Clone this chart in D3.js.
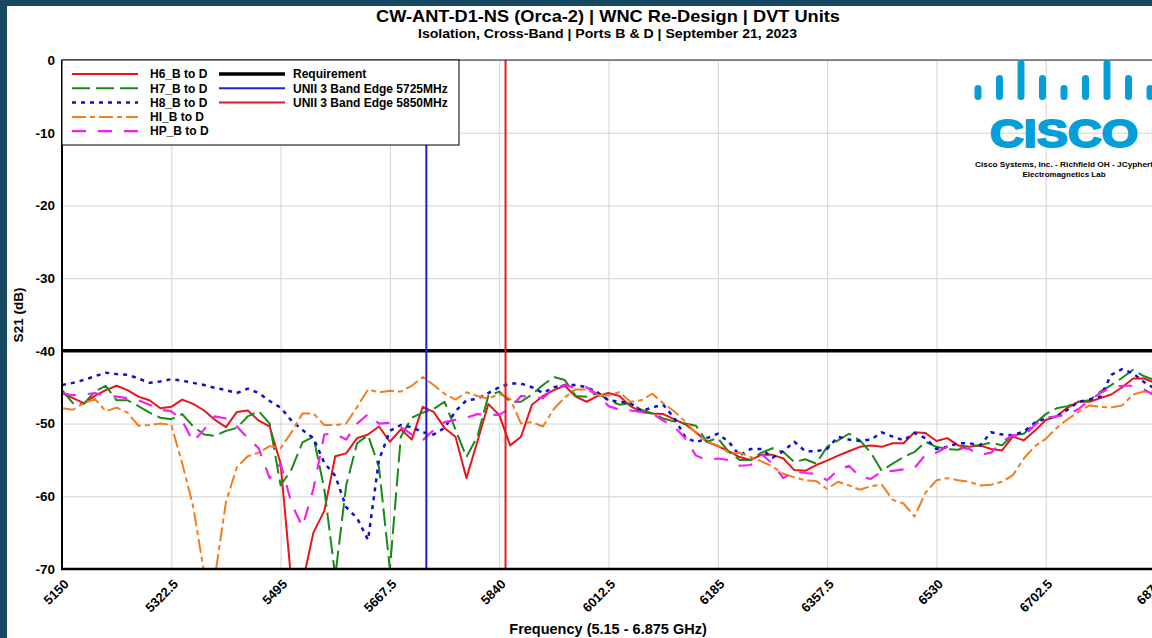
<!DOCTYPE html>
<html>
<head>
<meta charset="utf-8">
<script src="https://cdn.jsdelivr.net/npm/d3@7"></script>
<style>
  html, body { margin: 0; padding: 0; background: #174a62; }
  svg { display: block; font-family: "Liberation Sans", Arial, sans-serif; font-weight: bold; }
</style>
</head>
<body>
<div id="chart"></div>
<script>
// frequency points (MHz)
const freqs = [
  5150, 5167.25, 5184.5, 5201.75, 5219, 5236.25, 5253.5, 5270.75, 5288, 5305.25,
  5322.5, 5339.75, 5357, 5374.25, 5391.5, 5408.75, 5426, 5443.25, 5460.5, 5477.75,
  5495, 5512.25, 5529.5, 5546.75, 5564, 5581.25, 5598.5, 5615.75, 5633, 5650.25,
  5667.5, 5684.75, 5702, 5719.25, 5736.5, 5753.75, 5771, 5788.25, 5805.5, 5822.75,
  5840, 5857.25, 5874.5, 5891.75, 5909, 5926.25, 5943.5, 5960.75, 5978, 5995.25,
  6012.5, 6029.75, 6047, 6064.25, 6081.5, 6098.75, 6116, 6133.25, 6150.5, 6167.75,
  6185, 6202.25, 6219.5, 6236.75, 6254, 6271.25, 6288.5, 6305.75, 6323, 6340.25,
  6357.5, 6374.75, 6392, 6409.25, 6426.5, 6443.75, 6461, 6478.25, 6495.5, 6512.75,
  6530, 6547.25, 6564.5, 6581.75, 6599, 6616.25, 6633.5, 6650.75, 6668, 6685.25,
  6702.5, 6719.75, 6737, 6754.25, 6771.5, 6788.75, 6806, 6823.25, 6840.5, 6857.75,
  6875
];

// S21 (dB) per unit
const h6 = [
  -45.8, -46.5, -47.2, -46.2, -45.4, -44.8, -45.4, -46.3, -46.8, -47.9,
  -47.7, -46.7, -47.3, -48.2, -49.5, -50.5, -48.4, -48.2, -49.6, -50.4,
  -55.5, -72, -72, -65, -62, -54.5, -54.1, -52.0, -51.5, -50.4,
  -52.5, -50.8, -52.2, -47.7, -48.4, -50.6, -51.8, -57.5, -52.5, -47.3,
  -48.8, -53.0, -51.8, -47.4, -46.2, -45.4, -44.8, -46.3, -47.0, -46.2,
  -45.8, -46.2, -47.6, -48.4, -48.6, -48.7, -49.4, -50.1, -51.2, -52.5,
  -53.1, -53.8, -54.6, -55.0, -54.3, -54.3, -54.8, -56.4, -56.5, -55.7,
  -55.1, -54.4, -53.8, -53.2, -53.0, -53.2, -52.7, -52.7, -51.2, -51.3,
  -52.4, -52.0, -53.0, -53.2, -53.0, -53.5, -53.7, -51.8, -52.3, -51.0,
  -49.5, -49.0, -47.8, -47.0, -47.0, -46.5, -46.0, -45.0, -43.8, -43.8,
  -44.4
];
const h7 = [
  -45.4, -47.2, -47.3, -45.6, -44.8, -46.8, -46.8, -47.6, -48.5, -49.2,
  -49.4, -48.7, -50.4, -51.5, -51.7, -51.0, -50.6, -49.0, -48.3, -50.0,
  -58.5, -56.3, -52.6, -51.8, -59, -71, -58.5, -52.7, -51.6, -56,
  -70, -51.8, -49.2, -48.5, -48.0, -47.0, -50.8, -54.6, -51.8, -46.2,
  -45.6, -47.0, -47.0, -46.0, -44.7, -43.6, -44.0, -46.2, -46.3, -45.8,
  -46.8, -47.4, -47.2, -48.1, -48.6, -49.3, -49.7, -50.0, -50.3, -52.5,
  -52.0, -53.9, -55.0, -55.0, -54.0, -53.4, -53.9, -55.3, -54.9, -55.5,
  -53.2, -52.3, -51.4, -52.3, -54.0, -56.5, -55.5, -54.6, -53.9, -52.5,
  -53.2, -53.5, -53.6, -53.0, -53.0, -52.6, -53.0, -51.6, -51.4, -50.0,
  -48.7, -47.9, -47.6, -47.0, -46.8, -45.6, -44.7, -43.7, -42.6, -43.5,
  -44.0
];
const h8 = [
  -44.7, -44.4, -44.0, -43.5, -43.0, -43.2, -43.3, -43.8, -44.4, -44.2,
  -43.9, -44.1, -44.4, -44.7, -45.1, -45.4, -45.8, -45.2, -45.8, -46.9,
  -47.8, -49.6, -50.9, -52.0, -55.4, -57.2, -61.5, -63.0, -66, -55,
  -51.0, -50.2, -50.5, -51.2, -51.5, -50.6, -48.3, -46.8, -46.6, -45.8,
  -45.0, -44.5, -44.5, -45.0, -45.8, -45.0, -44.7, -44.7, -45.0, -45.7,
  -46.8, -47.0, -47.2, -48.3, -47.8, -47.4, -49.2, -51.8, -52.6, -52.0,
  -51.4, -52.5, -54.4, -53.5, -53.5, -54.7, -53.8, -52.5, -53.8, -53.8,
  -53.5, -51.8, -52.2, -52.4, -52.2, -51.2, -51.8, -52.3, -51.3, -52.0,
  -53.5, -53.2, -52.7, -52.7, -53.0, -51.2, -51.5, -51.6, -51.1, -49.9,
  -49.3, -49.0, -48.1, -47.0, -46.7, -46.3, -43.3, -42.5, -43.1, -44.3,
  -45.2
];
const hi = [
  -47.9, -48.1, -47.2, -46.6, -48.3, -47.8, -48.5, -50.3, -50.2, -50.0,
  -50.2, -55.5, -61.4, -70.5, -71, -60.8, -56, -54.5, -54.0, -53.1,
  -53.4, -51.2, -48.6, -48.6, -50.2, -50.2, -50.0, -47.7, -45.3, -45.7,
  -45.5, -45.6, -44.8, -43.6, -44.7, -45.9, -46.7, -45.7, -46.2, -46.6,
  -45.9, -46.6, -50.0, -49.8, -50.4, -48.0, -46.4, -45.3, -45.3, -46.1,
  -46.1, -45.7, -47.0, -46.8, -45.9, -47.2, -48.3, -49.7, -51.3, -52.5,
  -53.0, -54.0, -54.0, -54.6, -55.2, -55.9, -56.9, -57.4, -57.8, -57.9,
  -59.0, -58.0, -58.5, -59.1, -58.6, -58.4, -60.5, -61.0, -62.8, -59.5,
  -57.8, -57.5, -57.8, -58.0, -58.5, -58.4, -58.0, -57.1, -54.8, -53.1,
  -52.1, -50.6, -49.4, -48.4, -47.5, -47.7, -47.8, -47.5, -46.0, -45.6,
  -45.8
];
const hp = [
  -45.8, -46.1, -46.0, -45.8, -46.2, -46.3, -46.5, -46.8, -47.4, -48.1,
  -48.3, -49.6, -52.5, -50.8, -49.0, -49.3, -50.4, -52.0, -53.4, -57.5,
  -55.5, -61, -64.2, -59, -51.5, -51.4, -52.2, -50, -48.7, -50.0,
  -49.9, -50.5, -51.5, -52.3, -50.9, -49.8, -49.5, -49.2, -48.7, -48.8,
  -48.8, -47.9, -46.2, -46.4, -46.5, -45.2, -44.7, -45.1, -45.0, -46.0,
  -47.6, -48.1, -48.2, -48.4, -48.6, -49.6, -50.4, -52.0, -54.4, -55.0,
  -54.8, -55.0, -55.8, -55.7, -54.2, -55.5, -57.5, -56.6, -56.8, -56.9,
  -57.8, -56.4, -55.8, -57.3, -57.6, -56.6, -56.5, -56.3, -56.1, -54.3,
  -54.0, -53.2, -53.3, -53.5, -54.3, -54.0, -52.5, -51.6, -51.7, -50.2,
  -49.2, -49.0, -48.8, -48.0, -46.8, -45.8, -45.0, -44.8, -44.8, -45.3,
  -46.2
];

const seriesNames = ["H6_B to D", "H7_B to D", "H8_B to D", "HI_B to D", "HP_B to D"];
const refNames = ["Requirement", "UNII 3 Band Edge 5725MHz", "UNII 3 Band Edge 5850MHz"];
const requirement = -40;
const bandEdges = [5725, 5850];

const xTicks = [5150, 5322.5, 5495, 5667.5, 5840, 6012.5, 6185, 6357.5, 6530, 6702.5, 6875];
const yTicks = [0, -10, -20, -30, -40, -50, -60, -70];

const title = "CW-ANT-D1-NS (Orca-2) | WNC Re-Design | DVT Units";
const subtitle = "Isolation, Cross-Band | Ports B & D | September 21, 2023";

let width = 1152, height = 638;
let plot = {left: 62, top: 60, right: 1155, bottom: 569};

let series = [
  {name: seriesNames[0], values: h6, color: "#e8161c", dash: null, w: 2},
  {name: seriesNames[1], values: h7, color: "#188a18", dash: "18,6", w: 2},
  {name: seriesNames[2], values: h8, color: "#1010c8", dash: "4,5", w: 2.5},
  {name: seriesNames[3], values: hi, color: "#f27d1e", dash: "14,4,5,4", w: 2},
  {name: seriesNames[4], values: hp, color: "#f022ee", dash: "14,12", w: 2.2}
];
let refs = [
  {name: refNames[0], color: "#000", w: 3.5},
  {name: refNames[1], color: "#1f1fd8", w: 2},
  {name: refNames[2], color: "#e8161c", w: 2}
];

let x = d3.scaleLinear([5150, 6875], [plot.left, plot.right]);
let y = d3.scaleLinear([-70, 0], [plot.bottom, plot.top]);

let svg = d3.select("#chart").append("svg")
    .attr("width", width)
    .attr("height", height);

// white page panel
svg.append("rect")
    .attr("x", 7).attr("y", 6)
    .attr("width", width - 7).attr("height", height - 6)
    .attr("fill", "#fff");

svg.append("text")
    .attr("x", 376).attr("y", 22)
    .attr("font-size", 17)
    .attr("textLength", 464)
    .attr("lengthAdjust", "spacingAndGlyphs")
    .text(title);
svg.append("text")
    .attr("x", 418).attr("y", 38)
    .attr("font-size", 13)
    .attr("textLength", 379)
    .attr("lengthAdjust", "spacingAndGlyphs")
    .text(subtitle);

svg.append("clipPath").attr("id", "plot-clip")
  .append("rect")
    .attr("x", plot.left).attr("y", plot.top)
    .attr("width", plot.right - plot.left)
    .attr("height", plot.bottom - plot.top);

// y axis + horizontal grid
svg.append("g")
    .attr("transform", `translate(${plot.left},0)`)
    .call(d3.axisLeft(y).tickValues(yTicks).tickSize(-(plot.right - plot.left)).tickPadding(7).tickFormat(d => String(d)))
    .call(g => g.select(".domain").remove())
    .call(g => g.selectAll("line").attr("stroke", "#d4d4d4"))
    .call(g => g.selectAll("text").attr("font-size", 13.5).attr("fill", "#000"));

// x axis + vertical grid
svg.append("g")
    .attr("transform", `translate(0,${plot.bottom})`)
    .call(d3.axisBottom(x).tickValues(xTicks).tickSize(-(plot.bottom - plot.top)).tickFormat(d => String(d)))
    .call(g => g.select(".domain").remove())
    .call(g => g.selectAll("line").attr("stroke", "#d4d4d4"))
    .call(g => g.selectAll("text")
        .attr("font-size", 13)
        .attr("fill", "#000")
        .attr("y", 0).attr("dy", 0)
        .attr("text-anchor", "end")
        .attr("transform", "translate(7,16) rotate(-45)"));

svg.append("text")
    .attr("x", 608).attr("y", 634)
    .attr("text-anchor", "middle")
    .attr("font-size", 14.5)
    .text("Frequency (5.15 - 6.875 GHz)");
svg.append("text")
    .attr("transform", "translate(23,315) rotate(-90)")
    .attr("text-anchor", "middle")
    .attr("font-size", 13.5)
    .text("S21 (dB)");

// data lines
let line = d3.line()
    .x((d, i) => x(freqs[i]))
    .y(d => y(d));

let lines = svg.append("g").attr("clip-path", "url(#plot-clip)");
lines.selectAll("path.series")
  .data(series)
  .join("path")
    .attr("class", "series")
    .attr("fill", "none")
    .attr("stroke", d => d.color)
    .attr("stroke-width", d => d.w)
    .attr("stroke-dasharray", d => d.dash)
    .attr("stroke-linejoin", "round")
    .attr("d", d => line(d.values));

// requirement + band edges
lines.append("line")
    .attr("x1", plot.left).attr("x2", plot.right)
    .attr("y1", y(requirement)).attr("y2", y(requirement))
    .attr("stroke", refs[0].color).attr("stroke-width", refs[0].w);
lines.selectAll("line.edge")
  .data(bandEdges)
  .join("line")
    .attr("class", "edge")
    .attr("x1", d => x(d)).attr("x2", d => x(d))
    .attr("y1", plot.top).attr("y2", plot.bottom)
    .attr("stroke", (d, i) => refs[i + 1].color)
    .attr("stroke-width", 2);

// frame
svg.append("line")
    .attr("x1", plot.left).attr("x2", plot.right)
    .attr("y1", plot.top).attr("y2", plot.top)
    .attr("stroke", "#222").attr("stroke-width", 1);
svg.append("line")
    .attr("x1", plot.left).attr("x2", plot.left)
    .attr("y1", plot.top).attr("y2", plot.bottom + 1)
    .attr("stroke", "#000").attr("stroke-width", 2);
svg.append("line")
    .attr("x1", plot.left - 1).attr("x2", plot.right)
    .attr("y1", plot.bottom).attr("y2", plot.bottom)
    .attr("stroke", "#000").attr("stroke-width", 2.5);

// legend
let legend = svg.append("g").attr("font-size", 12);
legend.append("rect")
    .attr("x", plot.left).attr("y", plot.top)
    .attr("width", 397).attr("height", 85)
    .attr("fill", "#fff").attr("stroke", "#000").attr("stroke-width", 1);

let rowY = i => 74 + i * 14.3;
let col1 = legend.selectAll("g.c1").data(series).join("g").attr("class", "c1")
    .attr("transform", (d, i) => `translate(0,${rowY(i)})`);
col1.append("line")
    .attr("x1", 72).attr("x2", 138)
    .attr("stroke", d => d.color)
    .attr("stroke-width", d => d.w)
    .attr("stroke-dasharray", d => d.dash);
col1.append("text").attr("x", 150).attr("dy", "0.35em").text(d => d.name);

let col2 = legend.selectAll("g.c2").data(refs).join("g").attr("class", "c2")
    .attr("transform", (d, i) => `translate(0,${rowY(i)})`);
col2.append("line")
    .attr("x1", 219).attr("x2", 285)
    .attr("stroke", d => d.color)
    .attr("stroke-width", d => d.w);
col2.append("text").attr("x", 293).attr("dy", "0.35em").text(d => d.name);

// cisco logo
let logo = svg.append("g").attr("fill", "#049fd9");
const barHeights = [15, 25, 40, 25, 15, 25, 40, 25, 15];
logo.selectAll("rect")
  .data(barHeights)
  .join("rect")
    .attr("x", (d, i) => 974.5 + i * 21.5)
    .attr("y", d => 100 - d)
    .attr("width", 7)
    .attr("height", d => d)
    .attr("rx", 3.5);
logo.append("text")
    .attr("x", 990).attr("y", 147)
    .attr("font-size", 38)
    .attr("font-weight", 900)
    .attr("stroke", "#049fd9")
    .attr("stroke-width", 2)
    .attr("stroke-linejoin", "round")
    .attr("textLength", 148)
    .attr("lengthAdjust", "spacingAndGlyphs")
    .text("CISCO");
svg.append("text")
    .attr("x", 975).attr("y", 167)
    .attr("font-size", 8)
    .attr("textLength", 178)
    .attr("lengthAdjust", "spacingAndGlyphs")
    .text("Cisco Systems, Inc. - Richfield OH - JCyphert");
svg.append("text")
    .attr("x", 1064).attr("y", 177)
    .attr("text-anchor", "middle")
    .attr("font-size", 8)
    .text("Electromagnetics Lab");
</script>
</body>
</html>
